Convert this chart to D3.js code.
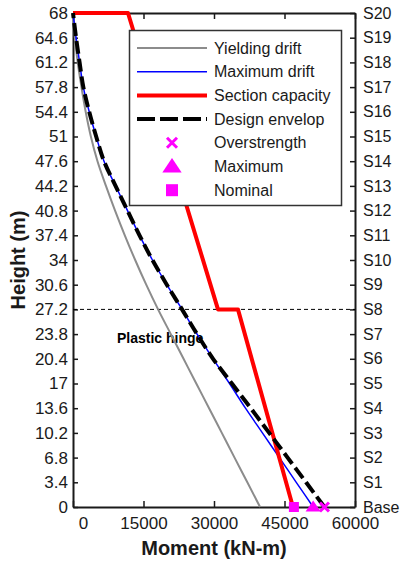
<!DOCTYPE html>
<html>
<head>
<meta charset="utf-8">
<script src="https://cdn.jsdelivr.net/npm/d3@7"></script>
<style>
	body { margin: 0; background: #fff; }
	svg { display: block; font-family: "Liberation Sans", Arial, sans-serif; }
	.axis path, .axis line { stroke: #1a1a1a; }
	.axis text { fill: #1a1a1a; }
</style>
</head>
<body>
<div id="chart"></div>
<script>
// data
const heights = [0, 3.4, 6.8, 10.2, 13.6, 17, 20.4, 23.8, 27.2, 30.6, 34, 37.4, 40.8, 44.2, 47.6, 51, 54.4, 57.8, 61.2, 64.6, 68];
const storyLabels = ["Base", "S1", "S2", "S3", "S4", "S5", "S6", "S7", "S8", "S9", "S10",
	"S11", "S12", "S13", "S14", "S15", "S16", "S17", "S18", "S19", "S20"];
const momentTicks = [0, 15000, 30000, 45000, 60000];

const yieldingDrift = [39800, 37090, 34370, 31660, 28950, 26230, 23520, 20810, 18100, 15580, 13230, 11020, 8950, 7010, 5210, 3800, 2700, 1800, 1000, 400, 0];
const maximumDrift = [51100, 47500, 43900, 40300, 36700, 33300, 29800, 26400, 23200, 19960, 16900, 14150, 11600, 9050, 6600, 4930, 3450, 2200, 1400, 650, 0];
const designEnvelop = [53500, 49580, 45660, 41740, 37820, 33800, 29800, 26400, 23200, 19960, 16900, 14150, 11600, 9050, 6600, 4930, 3450, 2200, 1400, 650, 0];

const capacityMoment = [46800, 35100, 30850, 11700, 0];
const capacityHeight = [0, 27.2, 27.2, 68, 68];

const baseNames = ["Overstrength", "Maximum", "Nominal"];
const baseMoments = [53500, 51100, 47000];

const hingeHeight = 27.2;

const width = 407, height = 563;
const margin = { left: 73, right: 52, top: 13, bottom: 56 };

const svg = d3.select("#chart").append("svg")
	.attr("width", width)
	.attr("height", height);

const x = d3.scaleLinear().domain([0, 60000]).range([margin.left, width - margin.right]);
const y = d3.scaleLinear().domain([0, 68]).range([height - margin.bottom, margin.top]);

// axes (ticks pointing inward, box on)
const axisStyle = g => {
	g.attr("class", "axis");
	g.select(".domain").attr("stroke-width", 2);
	g.selectAll(".tick line").attr("stroke-width", 1.5);
};

svg.append("g")
	.attr("transform", `translate(${ margin.left },0)`)
	.call(d3.axisLeft(y).tickValues(heights).tickFormat(d => String(d)).tickSizeInner(-5).tickSizeOuter(0).tickPadding(5))
	.call(axisStyle)
	.call(g => g.selectAll("text").attr("font-size", 17).attr("font-family", null));

svg.append("g")
	.attr("transform", `translate(${ x.range()[1] },0)`)
	.call(d3.axisRight(y).tickValues(heights).tickFormat((d, i) => storyLabels[i]).tickSizeInner(-5).tickSizeOuter(0).tickPadding(8))
	.call(axisStyle)
	.call(g => g.selectAll("text").attr("font-size", 16).attr("font-family", null));

svg.append("g")
	.attr("transform", `translate(0,${ y.range()[0] })`)
	.call(d3.axisBottom(x).tickValues(momentTicks).tickFormat(d => String(d)).tickSizeInner(-6).tickSizeOuter(0).tickPadding(10))
	.call(axisStyle)
	.call(g => g.selectAll("text").attr("font-size", 17).attr("font-family", null))
	// the "0" label sits a little to the right in the original
	.call(g => g.selectAll(".tick text").filter(d => d === 0).attr("x", 10));

svg.append("g")
	.attr("transform", `translate(0,${ y.range()[1] })`)
	.call(d3.axisTop(x).tickValues(momentTicks).tickFormat("").tickSizeInner(-6).tickSizeOuter(0))
	.call(axisStyle);

// axis titles
svg.append("text")
	.attr("x", (x.range()[0] + x.range()[1]) / 2)
	.attr("y", 555)
	.attr("text-anchor", "middle")
	.attr("font-size", 20)
	.attr("font-weight", "bold")
	.attr("fill", "#1a1a1a")
	.text("Moment (kN-m)");

svg.append("text")
	.attr("transform", `translate(25,${ (y.range()[0] + y.range()[1]) / 2 }) rotate(-90)`)
	.attr("text-anchor", "middle")
	.attr("font-size", 20)
	.attr("font-weight", "bold")
	.attr("fill", "#1a1a1a")
	.text("Height (m)");

// plastic hinge level
svg.append("line")
	.attr("x1", x.range()[0]).attr("x2", x.range()[1])
	.attr("y1", y(hingeHeight)).attr("y2", y(hingeHeight))
	.attr("stroke", "#000")
	.attr("stroke-width", 1)
	.attr("stroke-dasharray", "4,3");

svg.append("text")
	.attr("x", 117)
	.attr("y", 343)
	.attr("font-size", 14)
	.attr("font-weight", "bold")
	.attr("fill", "#000")
	.text("Plastic hinge");

// series
const series = [
	{ name: "Yielding drift", values: yieldingDrift, color: "#8c8c8c", width: 2, dash: null },
	{ name: "Maximum drift", values: maximumDrift, color: "#0000ff", width: 1.5, dash: null },
	{ name: "Section capacity", values: null, color: "#ff0000", width: 4, dash: null },
	{ name: "Design envelop", values: designEnvelop, color: "#000", width: 4, dash: "13,5" },
];

const curveLine = d3.line()
	.x(d => x(d[0]))
	.y(d => y(d[1]))
	.curve(d3.curveMonotoneY);

const straightLine = d3.line()
	.x(d => x(d[0]))
	.y(d => y(d[1]));

series.forEach(s => {
	let path;
	if (s.values) {
		path = curveLine(s.values.map((v, i) => [v, heights[i]]));
	} else {
		path = straightLine(capacityMoment.map((v, i) => [v, capacityHeight[i]]));
	}
	svg.append("path")
		.attr("d", path)
		.attr("fill", "none")
		.attr("stroke", s.color)
		.attr("stroke-width", s.width)
		.attr("stroke-dasharray", s.dash)
		.attr("stroke-linejoin", "round");
});

// base moment markers
const magenta = "#ff00ff";

function drawMarker(g, name, cx, cy, size) {
	if (name === "Overstrength") {
		const h = size / 2;
		g.append("path")
			.attr("d", `M${ cx - h },${ cy - h }L${ cx + h },${ cy + h }M${ cx - h },${ cy + h }L${ cx + h },${ cy - h }`)
			.attr("stroke", magenta)
			.attr("stroke-width", 3);
	} else if (name === "Maximum") {
		const h = size * 0.6;
		g.append("path")
			.attr("d", `M${ cx },${ cy - h }L${ cx + h * 1.15 },${ cy + h * 0.7 }L${ cx - h * 1.15 },${ cy + h * 0.7 }Z`)
			.attr("fill", magenta);
	} else {
		g.append("rect")
			.attr("x", cx - size / 2)
			.attr("y", cy - size / 2)
			.attr("width", size)
			.attr("height", size)
			.attr("fill", magenta);
	}
}

const markerLayer = svg.append("g");
baseNames.forEach((name, i) => {
	drawMarker(markerLayer, name, x(baseMoments[i]), y(0), name === "Overstrength" ? 9 : name === "Maximum" ? 11 : 10);
});

// legend
const legend = svg.append("g");
legend.append("rect")
	.attr("x", 129.5)
	.attr("y", 30.5)
	.attr("width", 212)
	.attr("height", 175)
	.attr("fill", "#fff")
	.attr("stroke", "#333")
	.attr("stroke-width", 1.5);

const legendItems = series.map(s => s.name).concat(baseNames);
legendItems.forEach((name, i) => {
	const ly = 48 + i * 23.7;
	const s = series.find(d => d.name === name);
	if (s) {
		legend.append("line")
			.attr("x1", 137).attr("x2", 207)
			.attr("y1", ly).attr("y2", ly)
			.attr("stroke", s.color)
			.attr("stroke-width", s.name === "Yielding drift" ? 2 : s.width === 1.5 ? 1.5 : 4)
			.attr("stroke-dasharray", s.dash ? "18,5" : null);
	} else {
		drawMarker(legend, name, 172, ly, name === "Overstrength" ? 10 : name === "Maximum" ? 14 : 12);
	}
	legend.append("text")
		.attr("x", 214)
		.attr("y", ly)
		.attr("dy", "0.35em")
		.attr("font-size", 16)
		.attr("fill", "#1a1a1a")
		.text(name);
});
</script>
</body>
</html>
